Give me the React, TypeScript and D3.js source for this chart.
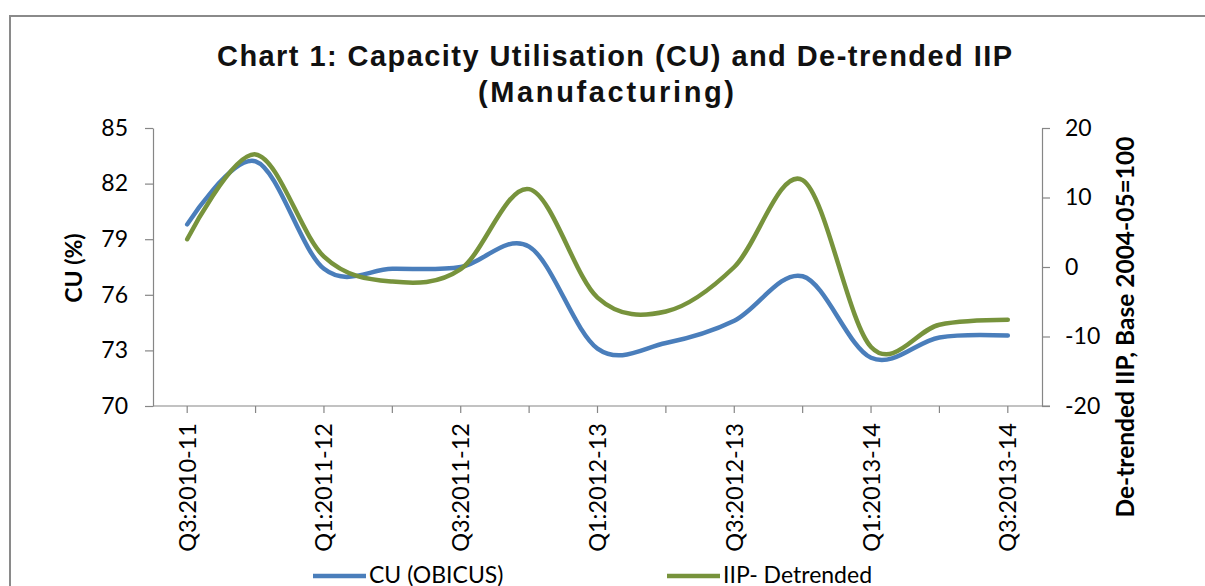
import React, { useEffect, useRef } from 'react';
import * as d3 from 'd3';

const quarters = [
  'Q3:2010-11', 'Q4:2010-11', 'Q1:2011-12', 'Q2:2011-12', 'Q3:2011-12',
  'Q4:2011-12', 'Q1:2012-13', 'Q2:2012-13', 'Q3:2012-13', 'Q4:2012-13',
  'Q1:2013-14', 'Q2:2013-14', 'Q3:2013-14',
];
// CU (OBICUS), % - left axis
const cuValues = [79.8, 83.2, 77.4, 77.4, 77.5, 78.6, 73.1, 73.4, 74.6, 77.0, 72.6, 73.7, 73.8];
// IIP de-trended - right axis
const iipValues = [4.0, 16.2, 1.5, -2.1, -0.3, 11.2, -4.4, -6.4, 0.0, 12.5, -11.5, -8.3, -7.6];
const leftTicks = [70, 73, 76, 79, 82, 85];
const rightTicks = [-20, -10, 0, 10, 20];

const W = 1205;
const H = 586;
const BLUE = '#4A7EBB';
const GREEN = '#77933C';
const AXIS = '#868686';
const TICK_FONT = 'Lato, "Open Sans", sans-serif';

export default function App() {
  const ref = useRef<SVGSVGElement>(null);

  useEffect(() => {
    const svg = d3.select(ref.current);
    svg.selectAll('*').remove();

    const plot = { left: 153, right: 1042, top: 128, bottom: 406 };

    const x = d3.scaleBand().domain(quarters).range([plot.left, plot.right]).padding(0);
    const cx = (q: string) => (x(q) as number) + x.bandwidth() / 2;
    const yL = d3.scaleLinear().domain([70, 85]).range([plot.bottom, plot.top]);
    const yR = d3.scaleLinear().domain([-20, 20]).range([plot.bottom, plot.top]);

    // outer chart border (cut by the screenshot on the right and bottom)
    svg.append('rect')
      .attr('x', 10).attr('y', 16)
      .attr('width', 1400).attr('height', 800)
      .attr('fill', 'none').attr('stroke', '#8a8a8a').attr('stroke-width', 2);

    // title, stretched to the width it has in the original
    const title = svg.append('g')
      .attr('font-family', '"Liberation Sans", Arial, sans-serif')
      .attr('font-size', 29)
      .attr('font-weight', 'bold')
      .attr('fill', '#111');
    title.append('text').attr('x', 217).attr('y', 66)
      .attr('textLength', 795).attr('lengthAdjust', 'spacing')
      .text('Chart 1: Capacity Utilisation (CU) and De-trended IIP');
    title.append('text').attr('x', 478).attr('y', 102)
      .attr('textLength', 256).attr('lengthAdjust', 'spacing')
      .text('(Manufacturing)');

    const plain = (d: d3.NumberValue) => String(d);

    // left axis
    const gL = svg.append('g')
      .attr('transform', `translate(${plot.left},0)`)
      .call(d3.axisLeft(yL).tickValues(leftTicks).tickFormat(plain)
        .tickSize(8).tickSizeOuter(0).tickPadding(17));
    // right axis
    const gR = svg.append('g')
      .attr('transform', `translate(${plot.right},0)`)
      .call(d3.axisRight(yR).tickValues(rightTicks).tickFormat(plain)
        .tickSize(8).tickSizeOuter(0).tickPadding(15));

    [gL, gR].forEach(g => {
      g.select('.domain').attr('stroke', AXIS).attr('stroke-width', 1.2);
      g.selectAll('.tick line').attr('stroke', AXIS).attr('stroke-width', 1.2);
      g.selectAll('.tick text')
        .attr('font-family', TICK_FONT).attr('font-size', 23).attr('fill', '#000');
    });

    // bottom axis
    const gX = svg.append('g');
    gX.append('line')
      .attr('x1', plot.left).attr('x2', plot.right + 8)
      .attr('y1', plot.bottom).attr('y2', plot.bottom)
      .attr('stroke', AXIS).attr('stroke-width', 1.2);
    gX.selectAll('line.tick')
      .data(quarters)
      .enter()
      .append('line')
      .attr('class', 'tick')
      .attr('x1', d => cx(d)).attr('x2', d => cx(d))
      .attr('y1', plot.bottom).attr('y2', plot.bottom + 7)
      .attr('stroke', AXIS).attr('stroke-width', 1.2);
    gX.selectAll('text')
      .data(quarters.filter((_, i) => i % 2 === 0))
      .enter()
      .append('text')
      .attr('transform', d => `translate(${cx(d)},${plot.bottom + 17}) rotate(-90)`)
      .attr('dy', '0.36em')
      .attr('text-anchor', 'end')
      .attr('font-family', TICK_FONT).attr('font-size', 23.5).attr('fill', '#000')
      .text(d => d);

    // axis titles
    svg.append('text')
      .attr('transform', 'translate(82,268) rotate(-90)')
      .attr('text-anchor', 'middle')
      .attr('font-family', TICK_FONT).attr('font-size', 23).attr('font-weight', 'bold')
      .text('CU (%)');
    svg.append('text')
      .attr('transform', 'translate(1134,327) rotate(-90)')
      .attr('text-anchor', 'middle')
      .attr('font-family', TICK_FONT).attr('font-size', 24.5).attr('font-weight', 'bold')
      .text('De-trended IIP, Base 2004-05=100');

    // lines
    const lineL = d3.line<number>()
      .x((_, i) => cx(quarters[i]))
      .y(d => yL(d))
      .curve(d3.curveCardinal.tension(0));
    const lineR = d3.line<number>()
      .x((_, i) => cx(quarters[i]))
      .y(d => yR(d))
      .curve(d3.curveCardinal.tension(0));

    svg.append('path')
      .attr('d', lineL(cuValues))
      .attr('fill', 'none').attr('stroke', BLUE).attr('stroke-width', 4.5)
      .attr('stroke-linejoin', 'round').attr('stroke-linecap', 'round');
    svg.append('path')
      .attr('d', lineR(iipValues))
      .attr('fill', 'none').attr('stroke', GREEN).attr('stroke-width', 4.5)
      .attr('stroke-linejoin', 'round').attr('stroke-linecap', 'round');

    // legend
    const legend = [
      { label: 'CU (OBICUS)', color: BLUE, x: 313 },
      { label: 'IIP- Detrended', color: GREEN, x: 667 },
    ];
    const lg = svg.append('g');
    legend.forEach(l => {
      lg.append('line')
        .attr('x1', l.x).attr('x2', l.x + 53)
        .attr('y1', 576).attr('y2', 576)
        .attr('stroke', l.color).attr('stroke-width', 4.5);
      lg.append('text')
        .attr('x', l.x + 56).attr('y', 583)
        .attr('font-family', TICK_FONT).attr('font-size', 23).attr('fill', '#000')
        .text(l.label);
    });
  }, []);

  return (
    <svg
      ref={ref}
      width={W}
      height={H}
      style={{ position: 'absolute', left: 0, top: 0, background: '#fff' }}
    />
  );
}
